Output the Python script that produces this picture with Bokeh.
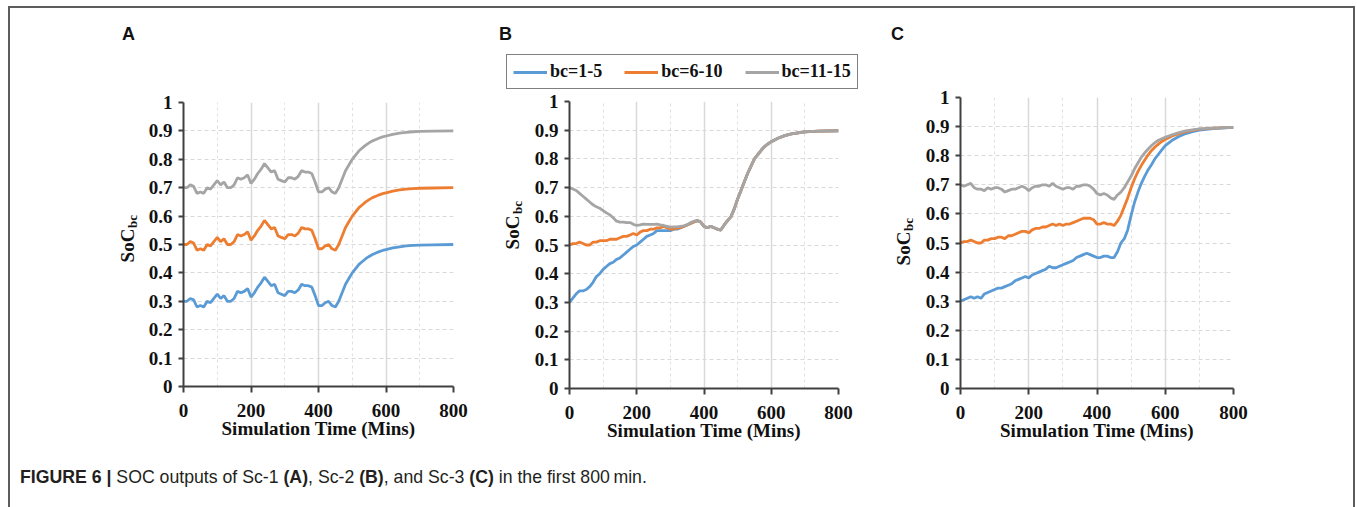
from bokeh.plotting import figure
from bokeh.models import (Range1d, FixedTicker, Legend, LegendItem,
                          CustomJSTickFormatter, Div, Spacer)
from bokeh.layouts import row, column
from bokeh.embed import file_html
from bokeh.resources import INLINE
from bokeh.core.properties import value

# ---------------- data ----------------
TIME = [0, 10, 20, 30, 40, 50, 60, 70, 80, 90,
        100, 110, 120, 130, 140, 150, 160, 170, 180, 190,
        200, 210, 220, 230, 240, 250, 260, 270, 280, 290,
        300, 310, 320, 330, 340, 350, 360, 370, 380, 390,
        400, 410, 420, 430, 440, 450, 460, 470, 480, 490,
        500, 510, 520, 530, 540, 550, 560, 570, 580, 590,
        600, 620, 640, 660, 680, 700, 740, 800]

# Panel A (Sc-1)
A_BC1_5 = [0.30, 0.30, 0.31, 0.305, 0.28, 0.285, 0.28, 0.30, 0.295, 0.31,
           0.325, 0.31, 0.32, 0.30, 0.30, 0.31, 0.335, 0.33, 0.335, 0.345,
           0.315, 0.33, 0.35, 0.365, 0.385, 0.37, 0.355, 0.36, 0.33, 0.325,
           0.32, 0.335, 0.335, 0.33, 0.34, 0.36, 0.355, 0.355, 0.35, 0.32,
           0.285, 0.285, 0.295, 0.30, 0.285, 0.28, 0.30, 0.33, 0.36, 0.38,
           0.40, 0.415, 0.43, 0.44, 0.45, 0.458, 0.465, 0.47, 0.475, 0.479,
           0.482, 0.488, 0.492, 0.495, 0.497, 0.498, 0.499, 0.50]
A_BC6_10 = [0.50, 0.50, 0.51, 0.505, 0.48, 0.485, 0.48, 0.50, 0.495, 0.51,
            0.525, 0.51, 0.52, 0.50, 0.50, 0.51, 0.535, 0.53, 0.535, 0.545,
            0.515, 0.53, 0.55, 0.565, 0.585, 0.57, 0.555, 0.56, 0.53, 0.525,
            0.52, 0.535, 0.535, 0.53, 0.54, 0.56, 0.555, 0.555, 0.55, 0.52,
            0.485, 0.485, 0.495, 0.50, 0.485, 0.48, 0.50, 0.53, 0.56, 0.58,
            0.60, 0.615, 0.63, 0.64, 0.65, 0.658, 0.665, 0.67, 0.675, 0.679,
            0.682, 0.688, 0.692, 0.695, 0.697, 0.698, 0.699, 0.70]
A_BC11_15 = [0.70, 0.70, 0.71, 0.705, 0.68, 0.685, 0.68, 0.70, 0.695, 0.71,
             0.725, 0.71, 0.72, 0.70, 0.70, 0.71, 0.735, 0.73, 0.735, 0.745,
             0.715, 0.73, 0.75, 0.765, 0.785, 0.77, 0.755, 0.76, 0.73, 0.725,
             0.72, 0.735, 0.735, 0.73, 0.74, 0.76, 0.755, 0.755, 0.75, 0.72,
             0.685, 0.685, 0.695, 0.70, 0.685, 0.68, 0.70, 0.73, 0.76, 0.78,
             0.80, 0.815, 0.83, 0.84, 0.85, 0.858, 0.865, 0.87, 0.875, 0.879,
             0.882, 0.888, 0.892, 0.895, 0.897, 0.898, 0.899, 0.90]

# Panel B (Sc-2)
B_BC1_5 = [0.30, 0.315, 0.33, 0.34, 0.34, 0.345, 0.355, 0.37, 0.39, 0.40,
           0.415, 0.425, 0.435, 0.44, 0.45, 0.455, 0.465, 0.475, 0.485, 0.495,
           0.50, 0.51, 0.52, 0.53, 0.535, 0.54, 0.55, 0.55, 0.55, 0.55,
           0.55, 0.555, 0.555, 0.56, 0.565, 0.57, 0.575, 0.58, 0.585, 0.58,
           0.565, 0.56, 0.565, 0.56, 0.555, 0.552, 0.57, 0.585, 0.598, 0.626,
           0.66, 0.69, 0.72, 0.75, 0.775, 0.80, 0.815, 0.83, 0.843, 0.852,
           0.86, 0.872, 0.881, 0.887, 0.891, 0.894, 0.897, 0.898]
B_BC6_10 = [0.50, 0.505, 0.505, 0.51, 0.505, 0.50, 0.50, 0.51, 0.51, 0.515,
            0.515, 0.515, 0.52, 0.52, 0.52, 0.525, 0.53, 0.53, 0.535, 0.54,
            0.535, 0.545, 0.55, 0.55, 0.555, 0.555, 0.56, 0.56, 0.565, 0.56,
            0.555, 0.555, 0.56, 0.56, 0.565, 0.57, 0.575, 0.58, 0.585, 0.58,
            0.565, 0.56, 0.565, 0.56, 0.555, 0.552, 0.57, 0.585, 0.598, 0.626,
            0.66, 0.69, 0.72, 0.75, 0.775, 0.80, 0.815, 0.83, 0.843, 0.852,
            0.86, 0.872, 0.881, 0.887, 0.891, 0.894, 0.897, 0.898]
B_BC11_15 = [0.70, 0.695, 0.69, 0.68, 0.67, 0.66, 0.65, 0.64, 0.633, 0.628,
             0.62, 0.612, 0.605, 0.595, 0.583, 0.58, 0.58, 0.578, 0.578, 0.572,
             0.568, 0.57, 0.573, 0.572, 0.572, 0.572, 0.573, 0.57, 0.568, 0.565,
             0.562, 0.563, 0.563, 0.565, 0.567, 0.57, 0.578, 0.583, 0.585, 0.58,
             0.565, 0.56, 0.565, 0.56, 0.555, 0.552, 0.57, 0.585, 0.598, 0.626,
             0.66, 0.69, 0.72, 0.75, 0.775, 0.80, 0.815, 0.83, 0.843, 0.852,
             0.86, 0.872, 0.881, 0.887, 0.891, 0.894, 0.897, 0.898]

# Panel C (Sc-3)
C_BC1_5 = [0.30, 0.305, 0.31, 0.315, 0.31, 0.315, 0.31, 0.325, 0.33, 0.335,
           0.34, 0.345, 0.345, 0.35, 0.355, 0.36, 0.37, 0.375, 0.38, 0.385,
           0.38, 0.39, 0.395, 0.40, 0.405, 0.41, 0.42, 0.415, 0.415, 0.42,
           0.425, 0.43, 0.435, 0.44, 0.45, 0.455, 0.46, 0.465, 0.46, 0.455,
           0.45, 0.45, 0.455, 0.455, 0.45, 0.45, 0.47, 0.50, 0.515, 0.545,
           0.595, 0.64, 0.675, 0.705, 0.73, 0.752, 0.77, 0.79, 0.805, 0.82,
           0.835, 0.853, 0.866, 0.876, 0.883, 0.888, 0.893, 0.897]
C_BC6_10 = [0.50, 0.505, 0.505, 0.51, 0.505, 0.50, 0.50, 0.51, 0.51, 0.515,
            0.515, 0.52, 0.52, 0.515, 0.525, 0.525, 0.53, 0.535, 0.54, 0.54,
            0.535, 0.545, 0.55, 0.55, 0.555, 0.555, 0.56, 0.565, 0.56, 0.565,
            0.56, 0.565, 0.565, 0.57, 0.575, 0.58, 0.585, 0.585, 0.585, 0.58,
            0.565, 0.565, 0.57, 0.565, 0.565, 0.56, 0.575, 0.595, 0.625, 0.655,
            0.69, 0.72, 0.745, 0.767, 0.785, 0.803, 0.818, 0.83, 0.84, 0.849,
            0.856, 0.868, 0.876, 0.883, 0.887, 0.891, 0.895, 0.897]
C_BC11_15 = [0.70, 0.695, 0.70, 0.705, 0.69, 0.685, 0.685, 0.68, 0.69, 0.685,
             0.69, 0.69, 0.685, 0.675, 0.68, 0.685, 0.685, 0.69, 0.695, 0.69,
             0.68, 0.69, 0.695, 0.695, 0.70, 0.70, 0.695, 0.705, 0.695, 0.69,
             0.685, 0.69, 0.69, 0.685, 0.695, 0.695, 0.70, 0.70, 0.695, 0.685,
             0.67, 0.665, 0.67, 0.665, 0.655, 0.65, 0.665, 0.675, 0.69, 0.71,
             0.73, 0.755, 0.775, 0.795, 0.81, 0.823, 0.835, 0.845, 0.853, 0.858,
             0.863, 0.872, 0.879, 0.885, 0.889, 0.892, 0.895, 0.897]

SERIES_NAMES = ["bc=1-5", "bc=6-10", "bc=11-15"]
COLORS = ["#5B9BD5", "#ED7D31", "#A5A5A5"]
X_TICKS = [0, 200, 400, 600, 800]
X_MINOR = [100, 300, 500, 700]
Y_TICKS = [0, 0.1, 0.2, 0.3, 0.4, 0.5, 0.6, 0.7, 0.8, 0.9, 1.0]
X_TITLE = "Simulation Time (Mins)"
Y_TITLE = "SoC"
Y_SUB = "bc"
PANEL_LETTERS = ["A", "B", "C"]
CAPTION = ('<b>FIGURE 6 |</b> SOC outputs of Sc-1 <b>(A)</b>, Sc-2 <b>(B)</b>, '
           'and Sc-3 <b>(C)</b> in the first 800&#8201;min.')

SERIF = "Liberation Serif"
SANS = "Liberation Sans"
AXIS_COL = "#404040"
TXT_COL = "#111111"
FRAME_COL = "#5c5c5c"


def strip(w, h, top=0, bottom=0):
    """A plain drawing area whose data units are canvas pixels (y downwards).
    top/bottom borders match the neighbouring chart so row alignment is harmless."""
    s = figure(width=w, height=h, x_range=Range1d(0, w),
               y_range=Range1d(h - bottom, top),
               min_border=0, min_border_left=0, min_border_right=0,
               min_border_top=top, min_border_bottom=bottom,
               x_axis_type=None, y_axis_type=None,
               output_backend="svg", toolbar_location=None, tools="")
    s.outline_line_color = None
    s.grid.visible = False
    s.background_fill_color = "white"
    s.border_fill_color = "white"
    return s


def make_panel(series, W, H, left, right, top, bottom):
    p = figure(width=W, height=H, min_border_left=left, min_border_right=right,
               min_border_top=top, min_border_bottom=bottom,
               x_range=Range1d(0, 800), y_range=Range1d(0, 1),
               output_backend="svg", toolbar_location=None, tools="")
    p.outline_line_color = None
    p.background_fill_color = "white"
    p.border_fill_color = "white"

    xa = p.xaxis[0]
    xa.ticker = FixedTicker(ticks=X_TICKS, minor_ticks=X_MINOR)
    xa.axis_line_color = AXIS_COL
    xa.axis_line_width = 2
    xa.major_tick_line_color = AXIS_COL
    xa.major_tick_line_width = 2
    xa.major_tick_out = 6
    xa.major_tick_in = 0
    xa.minor_tick_line_color = None
    xa.major_label_text_font = SERIF
    xa.major_label_text_font_style = "bold"
    xa.major_label_text_font_size = "19px"
    xa.major_label_text_color = TXT_COL
    xa.major_label_standoff = 11
    xa.axis_label = X_TITLE
    xa.axis_label_text_font = SERIF
    xa.axis_label_text_font_style = "bold"
    xa.axis_label_text_font_size = "19px"
    xa.axis_label_text_color = TXT_COL
    xa.axis_label_standoff = -2

    ya = p.yaxis[0]
    ya.ticker = FixedTicker(ticks=Y_TICKS)
    ya.formatter = CustomJSTickFormatter(code="return String(Math.round(tick*10)/10);")
    ya.axis_line_color = AXIS_COL
    ya.axis_line_width = 2
    ya.major_tick_line_color = AXIS_COL
    ya.major_tick_line_width = 2
    ya.major_tick_out = 5
    ya.major_tick_in = 0
    ya.minor_tick_line_color = None
    ya.major_label_text_font = SERIF
    ya.major_label_text_font_style = "bold"
    ya.major_label_text_font_size = "19px"
    ya.major_label_text_color = TXT_COL
    ya.major_label_standoff = 6

    p.xgrid.grid_line_color = "#d9d9d9"
    p.xgrid.grid_line_width = 1.5
    p.xgrid.minor_grid_line_color = "#e0e0e0"
    p.xgrid.minor_grid_line_width = 1
    p.xgrid.minor_grid_line_dash = "3 3"
    p.ygrid.grid_line_color = "#d9d9d9"
    p.ygrid.grid_line_width = 1
    p.ygrid.grid_line_dash = "4 3"

    for ys, col in zip(series, COLORS):
        p.line(TIME, ys, line_color=col, line_width=2.8)
    return p


def letter_strip(w, h, letter, pos):
    s = strip(w, h)
    s.text(x=[pos[0]], y=[pos[1]], text=[letter], text_font=value(SANS),
           text_font_style="bold", text_font_size="18px", text_color=TXT_COL,
           text_align="center", text_baseline="middle")
    return s


def ytitle_strip(w, h, top, bottom, soc_pos, sub_pos):
    s = strip(w, h, top, bottom)
    s.text(x=[soc_pos[0]], y=[soc_pos[1]], text=[Y_TITLE], angle=1.5707963,
           text_font=value(SERIF), text_font_style="bold", text_font_size="19px",
           text_color=TXT_COL, text_align="center", text_baseline="middle")
    s.text(x=[sub_pos[0]], y=[sub_pos[1]], text=[Y_SUB], angle=1.5707963,
           text_font=value(SERIF), text_font_style="bold", text_font_size="13px",
           text_color=TXT_COL, text_align="center", text_baseline="middle")
    return s


# ---- panel A ----
topA = letter_strip(460, 77, PANEL_LETTERS[0], (118, 25))
yA = ytitle_strip(130, 370, 17, 69, (117, 160), (122, 136))
pA = make_panel([A_BC1_5, A_BC6_10, A_BC11_15], 330, 370, 43, 17, 17, 69)
colA = column(topA, row(yA, pA))

# ---- panel B (with legend) ----
topB = letter_strip(392, 81, PANEL_LETTERS[1], (35, 25))
# legend keys: one-point lines (nothing drawn) that carry each series' style
key_renderers = [topB.line(x=TIME[:1], y=ys[:1], line_color=c, line_width=2.8)
                 for ys, c in zip([B_BC1_5, B_BC6_10, B_BC11_15], COLORS)]
legend = Legend(items=[LegendItem(label=n, renderers=[r])
                       for n, r in zip(SERIES_NAMES, key_renderers)],
                location=(36, 0), orientation="horizontal",
                border_line_color="black", border_line_width=1,
                background_fill_color="white", background_fill_alpha=1,
                label_text_font=SERIF, label_text_font_style="bold",
                label_text_font_size="18px", label_text_color=TXT_COL,
                glyph_width=34, glyph_height=16, label_height=16,
                label_standoff=3, spacing=22, padding=6, margin=0)
topB.add_layout(legend)
yB = ytitle_strip(54, 366, 12, 67, (42, 143), (47, 118))
pB = make_panel([B_BC1_5, B_BC6_10, B_BC11_15], 338, 366, 45, 24, 12, 67)
colB = column(topB, row(yB, pB))

# ---- panel C ----
topC = letter_strip(491, 75, PANEL_LETTERS[2], (35, 25))
yC = ytitle_strip(54, 372, 14, 67, (41, 165), (46, 141))
pC = make_panel([C_BC1_5, C_BC6_10, C_BC11_15], 437, 372, 44, 120, 14, 67)
colC = column(topC, row(yC, pC))

caption_html = (
    '<div style="font-family:\'Liberation Sans Narrow\',\'Liberation Sans\',Arial,sans-serif;'
    'font-size:17.7px;line-height:22px;color:#231f20;padding:11px 0 0 10px;white-space:nowrap;">'
    + CAPTION + '</div>'
)
cap = Div(text=caption_html, width=1343, height=52, margin=(0, 0, 0, 0))

inner = column(row(colA, colB, colC), cap)

BORDER = {"background-color": FRAME_COL}
top_line = Spacer(width=1347, height=2, styles=BORDER, margin=(0, 0, 0, 0))
left_line = Spacer(width=2, height=499, styles=BORDER, margin=(0, 0, 0, 0))
right_line = Spacer(width=2, height=499, styles=BORDER, margin=(0, 0, 0, 0))

framed = column(Spacer(width=1347, height=6, margin=(0, 0, 0, 0)), top_line,
                row(left_line, inner, right_line))
layout = row(Spacer(width=8, height=507, margin=(0, 0, 0, 0)), framed)

open("out.html", "w").write(file_html(layout, INLINE))
